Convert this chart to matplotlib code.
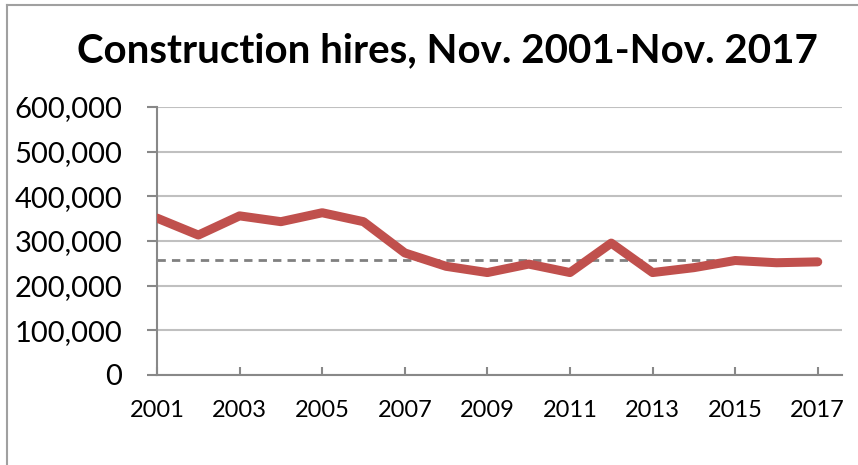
import matplotlib
matplotlib.use("Agg")
import matplotlib.pyplot as plt
from matplotlib.lines import Line2D
from matplotlib.ticker import FuncFormatter

years = list(range(2001, 2018))
hires = [351000, 313000, 356000, 343000, 363000, 343000, 273000, 243000, 229000,
         248000, 229000, 295000, 229000, 240000, 256000, 251000, 253000]
reference_level = 257000
tick_years = list(range(2001, 2018, 2))

plt.rcParams['font.family'] = ['Lato', 'DejaVu Sans']

fig = plt.figure(figsize=(8.58, 4.65), dpi=100)
ax = fig.add_axes([0.183, 0.194, 0.798, 0.576])

ax.plot(years, hires, color='#c0504d', linewidth=6.5,
        solid_capstyle='round', solid_joinstyle='round', zorder=3)
ax.plot([years[0], years[-1]], [reference_level, reference_level],
        color='#808080', linewidth=2, linestyle=(0, (3, 2.2)), zorder=2)

ax.set_xlim(2001, 2017.58)
ax.set_ylim(0, 600000)
ax.set_yticks(range(0, 600001, 100000))
ax.set_xticks(tick_years)
ax.yaxis.set_major_formatter(FuncFormatter(lambda v, p: f"{int(v):,}"))

ax.grid(axis='y', color='#c0c0c0', linewidth=1.5)
ax.set_axisbelow(True)
for s in ['top', 'right']:
    ax.spines[s].set_visible(False)
for s in ['left', 'bottom']:
    ax.spines[s].set_color('#888888')
    ax.spines[s].set_linewidth(1.5)

ax.tick_params(axis='y', direction='out', length=7, width=1.5, color='#888888',
               labelsize=21, pad=18)
ax.tick_params(axis='x', direction='in', length=6, width=1.5, color='#888888',
               labelsize=17, pad=18)

fig.text(0.521, 0.89, 'Construction hires, Nov. 2001-Nov. 2017',
         ha='center', va='center', fontsize=29, fontweight='bold')

# chart frame (only top and left edges visible in the crop)
fig.add_artist(Line2D([7 / 858, 1], [1 - 5 / 465, 1 - 5 / 465],
                      transform=fig.transFigure, color='#a0a0a0', linewidth=1.5))
fig.add_artist(Line2D([7 / 858, 7 / 858], [0, 1 - 5 / 465],
                      transform=fig.transFigure, color='#a0a0a0', linewidth=1.5))

fig.savefig('out.png', dpi=100)
